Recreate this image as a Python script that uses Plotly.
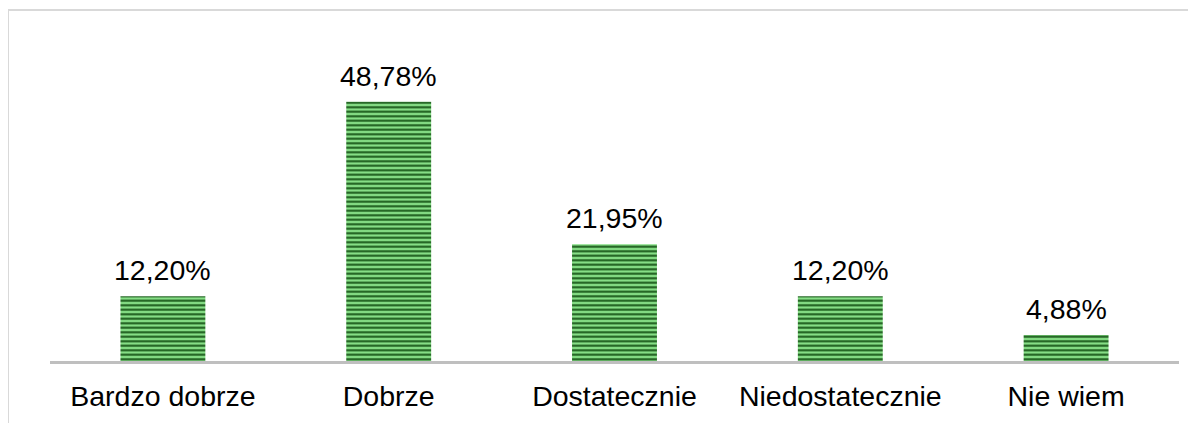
import plotly.graph_objects as go

categories = ["Bardzo dobrze", "Dobrze", "Dostatecznie", "Niedostatecznie", "Nie wiem"]
values = [12.20, 48.78, 21.95, 12.20, 4.88]
labels = ["12,20%", "48,78%", "21,95%", "12,20%", "4,88%"]

FONT = "Liberation Sans, Arial, sans-serif"

fig = go.Figure()
fig.add_trace(go.Bar(
    x=categories,
    y=values,
    width=0.376,
    marker=dict(
        color="#5cbf5c",
        line=dict(width=0),
        pattern=dict(shape="-", size=4.5, solidity=0.45,
                     fgcolor="#1c5a1c", bgcolor="#86de86", fillmode="replace"),
    ),
    hoverinfo="skip",
))

for c, v, t in zip(categories, values, labels):
    fig.add_annotation(x=c, y=v, text=t, showarrow=False, yanchor="bottom",
                       yshift=8, font=dict(family=FONT, size=28.5, color="#000000"))

# outer frame (left and top edges visible)
fig.add_shape(type="line", xref="paper", yref="paper",
              x0=-0.0372, x1=-0.0372, y0=1.1003, y1=-0.4,
              line=dict(color="#d9d9d9", width=2))
fig.add_shape(type="line", xref="paper", yref="paper",
              x0=-0.0372, x1=1.2, y0=1.1003, y1=1.1003,
              line=dict(color="#d9d9d9", width=2))

fig.update_layout(
    width=1188, height=415,
    margin=dict(l=42, r=17, t=34, b=62),
    paper_bgcolor="white", plot_bgcolor="white",
    showlegend=False,
    font=dict(family=FONT, size=28.5, color="#000000"),
    xaxis=dict(showline=True, linecolor="#bfbfbf", linewidth=3, ticks="",
               showgrid=False, zeroline=False, ticklabelstandoff=8,
               tickfont=dict(family=FONT, size=28.5, color="#000000")),
    yaxis=dict(range=[0, 60], visible=False, showgrid=False, zeroline=False),
)

fig.write_html("out.html")
